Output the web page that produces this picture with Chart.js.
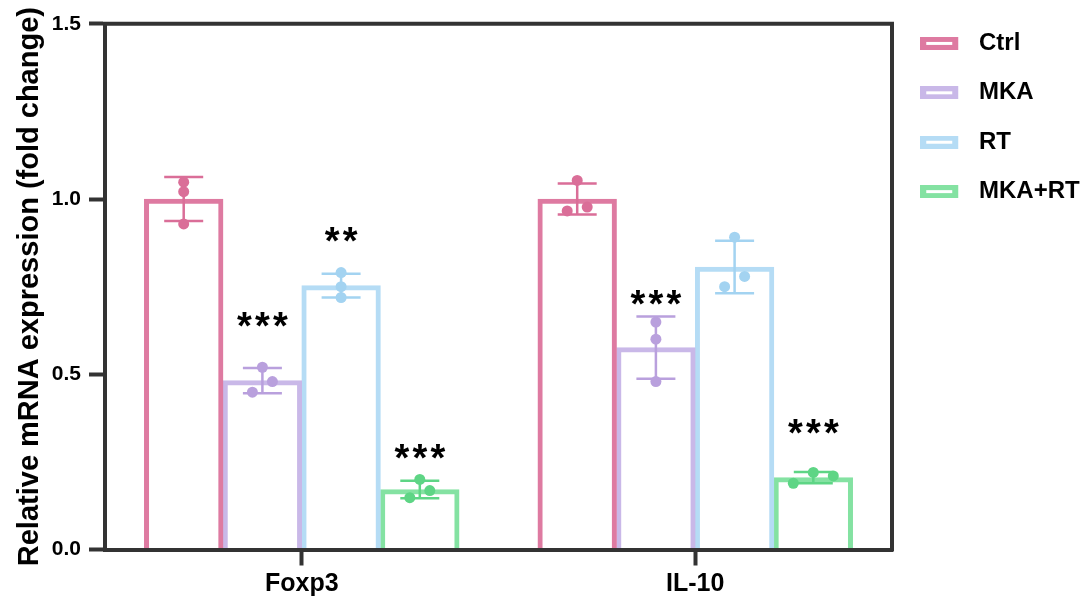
<!DOCTYPE html>
<html><head><meta charset="utf-8">
<script src="https://cdn.jsdelivr.net/npm/chart.js@4.4.1/dist/chart.umd.min.js"></script>
<style>html,body{margin:0;padding:0;background:#fff;}#wrap{width:1088px;height:603px;position:relative;}</style>
</head><body><div id="wrap"><canvas id="c"></canvas></div>
<script>
// ---------- DATA ----------
const categories = ['Foxp3', 'IL-10'];
const seriesNames = ['Ctrl', 'MKA', 'RT', 'MKA+RT'];
const meanCtrl  = [1.000, 1.000];
const meanMKA   = [0.482, 0.576];
const meanRT    = [0.753, 0.806];
const meanMKART = [0.171, 0.205];
const sdCtrl  = [0.063, 0.044];
const sdMKA   = [0.036, 0.089];
const sdRT    = [0.034, 0.075];
const sdMKART = [0.025, 0.016];
// replicate values per category: [Foxp3], [IL-10]
const ptsCtrl  = [[1.048, 1.021, 0.929], [1.053, 0.977, 0.966]];
const ptsMKA   = [[0.520, 0.479, 0.449], [0.649, 0.600, 0.479]];
const ptsRT    = [[0.790, 0.750, 0.719], [0.891, 0.750, 0.779]];
const ptsMKART = [[0.200, 0.168, 0.148], [0.220, 0.189, 0.210]];
// significance marks and their heights (data units)
const sigCtrl  = ['', ''];
const sigMKA   = ['***', '***'];
const sigRT    = ['**', ''];
const sigMKART = ['***', '***'];
const sigYCtrl  = [null, null];
const sigYMKA   = [0.664, 0.727];
const sigYRT    = [0.907, null];
const sigYMKART = [0.286, 0.358];
const yTicks = [0, 0.5, 1.0, 1.5];

// ---------- STYLE ----------
const FONT = 'Arial, "Liberation Sans", sans-serif';
const AXIS = '#333333';
const barColors = ['#DE7AA1', '#C9B8E8', '#B5DCF5', '#84E2A2'];
const dotColors = ['#DA6E98', '#B9A0DD', '#A3D3F1', '#5ED585'];
// horizontal jitter columns of the replicate dots (in dot steps)
const jitter = [
  [[0, 0, 0], [0, 1, -1]],
  [[0, 1, -1], [0, 0, 0]],
  [[0, 0, 0], [0, -1, 1]],
  [[0, 1, -1], [0, -2, 2]]
];
const JSTEP = 0.0254;     // one dot step, in category units
const SLOT = 0.2;         // bar slot width inside a category (0.8 / 4)

const means = [meanCtrl, meanMKA, meanRT, meanMKART];
const sds = [sdCtrl, sdMKA, sdRT, sdMKART];
const pts = [ptsCtrl, ptsMKA, ptsRT, ptsMKART];
const sigs = [sigCtrl, sigMKA, sigRT, sigMKART];
const sigYs = [sigYCtrl, sigYMKA, sigYRT, sigYMKART];

function swatch(color) {
  const c = document.createElement('canvas');
  c.width = 44; c.height = 13;
  const g = c.getContext('2d');
  g.fillStyle = color; g.fillRect(0, 0, 38, 13);
  g.fillStyle = '#fff'; g.fillRect(6, 5, 26, 3);
  return c;
}
const swatches = barColors.map(swatch);

const datasets = [];
seriesNames.forEach((name, k) => {
  datasets.push({
    type: 'bar', label: name,
    data: categories.map((c, i) => ({x: i + (k - 1.5) * SLOT, y: means[k][i]})),
    xAxisID: 'x', yAxisID: 'y', grouped: false,
    backgroundColor: '#ffffff', borderColor: barColors[k], borderWidth: 5,
    barPercentage: 1.0, categoryPercentage: 1.0,
    means: means[k], sd: sds[k], errColor: dotColors[k], sig: sigs[k], sigY: sigYs[k],
    order: 2
  });
});
seriesNames.forEach((name, k) => {
  const d = [];
  categories.forEach((c, i) => {
    pts[k][i].forEach((v, r) => {
      d.push({x: i + (k - 1.5) * SLOT + jitter[k][i][r] * JSTEP, y: v});
    });
  });
  datasets.push({
    type: 'scatter', label: name + ' pts', data: d, xAxisID: 'xp', yAxisID: 'y',
    backgroundColor: dotColors[k], borderWidth: 0, pointRadius: 5.5, pointHoverRadius: 5.5,
    showLine: false, order: 1, isDots: true
  });
});

const errPlugin = {
  id: 'errbars',
  afterDatasetDraw(chart, args) {
    const ds = chart.data.datasets[args.index];
    if (!ds.sd) return;
    const ctx = chart.ctx, y = chart.scales.y;
    ctx.save();
    ctx.strokeStyle = ds.errColor; ctx.lineWidth = 2.5;
    args.meta.data.forEach((bar, j) => {
      const m = ds.means[j], s = ds.sd[j];
      const y1 = y.getPixelForValue(m + s), y2 = y.getPixelForValue(m - s);
      ctx.beginPath();
      ctx.moveTo(bar.x, y1); ctx.lineTo(bar.x, y2);
      ctx.moveTo(bar.x - 19.5, y1); ctx.lineTo(bar.x + 19.5, y1);
      ctx.moveTo(bar.x - 19.5, y2); ctx.lineTo(bar.x + 19.5, y2);
      ctx.stroke();
    });
    ctx.restore();
  }
};

const sigPlugin = {
  id: 'sig',
  afterDatasetsDraw(chart) {
    const ctx = chart.ctx, y = chart.scales.y;
    ctx.save();
    ctx.fillStyle = '#000';
    ctx.font = 'bold 38px ' + FONT;
    ctx.textAlign = 'center'; ctx.textBaseline = 'alphabetic';
    chart.data.datasets.forEach((ds, di) => {
      if (!ds.sig) return;
      const meta = chart.getDatasetMeta(di);
      ds.sig.forEach((lab, j) => {
        if (!lab) return;
        const x = meta.data[j].x, py = y.getPixelForValue(ds.sigY[j]);
        const n = lab.length;
        for (let c = 0; c < n; c++) {
          ctx.fillText(lab[c], x + (c - (n - 1) / 2) * 18, py + 22);
        }
      });
    });
    // top and right frame lines
    const a = chart.chartArea;
    ctx.strokeStyle = AXIS; ctx.lineWidth = 4;
    ctx.beginPath();
    ctx.moveTo(a.left - 2, a.top); ctx.lineTo(a.right, a.top); ctx.lineTo(a.right, a.bottom + 2);
    ctx.stroke();
    ctx.restore();
  }
};

new Chart(document.getElementById('c'), {
  type: 'bar',
  data: {datasets},
  options: {
    responsive: true, maintainAspectRatio: false, animation: false,
    layout: {padding: {left: 9, top: 6, right: 0, bottom: 0}},
    plugins: {
      tooltip: {enabled: false},
      legend: {
        position: 'right', align: 'start', maxWidth: 196,
        labels: {
          usePointStyle: true, pointStyleWidth: 49.6, padding: 25.4,
          color: '#000', font: {family: FONT, size: 24, weight: 'bold'},
          filter: (item, data) => !data.datasets[item.datasetIndex].isDots,
          generateLabels(chart) {
            const items = Chart.defaults.plugins.legend.labels.generateLabels(chart);
            return items.map(it => Object.assign(it, {pointStyle: swatches[it.datasetIndex] || it.pointStyle, fontColor: '#000'}));
          }
        }
      }
    },
    scales: {
      x: {
        type: 'linear', min: -0.5, max: 1.5, offset: false, bounds: 'data',
        afterBuildTicks(s) { s.ticks = categories.map((c, i) => ({value: i})); },
        grid: {display: true, drawOnChartArea: false, drawTicks: true, offset: false, tickLength: 16, tickWidth: 4, tickColor: AXIS},
        border: {display: true, color: AXIS, width: 4, z: 1},
        ticks: {color: '#000', padding: 4, autoSkip: false, maxRotation: 0,
          font: {family: FONT, size: 25, weight: 'bold'},
          callback: v => categories[Math.round(v)]},
        afterFit(s) { s.height = 53.5; }
      },
      xp: {type: 'linear', display: false, offset: false, bounds: 'data', min: -0.5, max: 1.5,
        grid: {offset: false}},
      y: {
        min: 0, max: 1.5,
        afterBuildTicks(s) { s.ticks = yTicks.map(v => ({value: v})); },
        grid: {display: true, drawOnChartArea: false, drawTicks: true, tickLength: 16, tickWidth: 4, tickColor: AXIS},
        border: {display: true, color: AXIS, width: 4, z: 1},
        ticks: {color: '#000', padding: 8, font: {family: FONT, size: 21, weight: 'bold', lineHeight: 1.5},
          callback: v => Number(v).toFixed(1)},
        title: {display: true, text: 'Relative mRNA expression (fold change)', color: '#000',
          font: {family: FONT, size: 29, weight: 'bold'}, padding: {top: 4, bottom: 4}},
        afterFit(s) { s.width = 96; }
      }
    }
  },
  plugins: [errPlugin, sigPlugin]
});
</script></body></html>
